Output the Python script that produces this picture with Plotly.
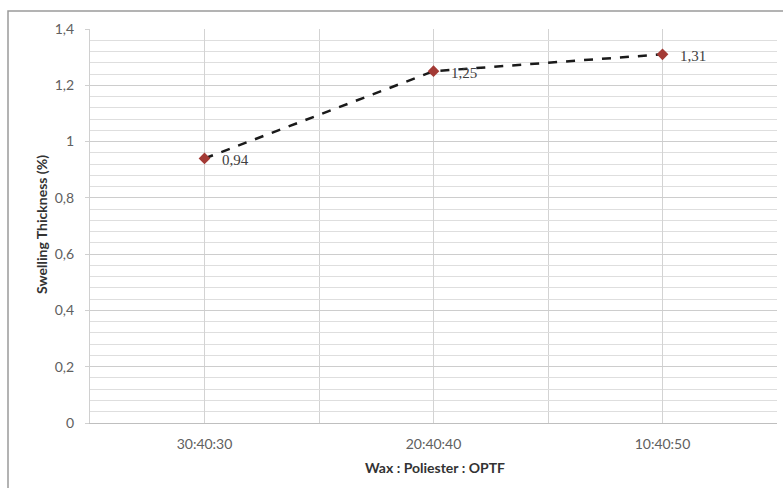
import plotly.graph_objects as go

categories = ["30:40:30", "20:40:40", "10:40:50"]
swelling = [0.94, 1.25, 1.31]
y_ticks = [0, 0.2, 0.4, 0.6, 0.8, 1.0, 1.2, 1.4]

W, H = 783, 488
ML, MR, MT, MB = 90, 6, 29, 65
pw = W - ML - MR
ph = H - MT - MB

def px_x(x):
    return (x - ML) / pw

def px_y(y):
    return (H - MB - y) / ph

xs = list(range(len(categories)))

fig = go.Figure()
fig.add_trace(go.Scatter(
    x=xs, y=swelling,
    mode="lines+markers",
    line=dict(color="#1a1a1a", width=2.5, dash="dash"),
    marker=dict(symbol="diamond", size=9, color="#A33A35"),
    showlegend=False,
))

ann = []
for xi, v in zip(xs, swelling):
    ann.append(dict(x=xi, y=v, xref="x", yref="y", text=f"{v:.2f}".replace(".", ","),
                    showarrow=False, xanchor="left", xshift=15, yshift=-2,
                    font=dict(family="Liberation Serif", size=15, color="#404040")))

ann += [
    dict(text="<b>Wax : Poliester : OPTF</b>", xref="paper", yref="paper",
         x=px_x(435), y=px_y(467), xanchor="center", yanchor="middle", showarrow=False,
         font=dict(family="Lato", size=14, color="#333333")),
    dict(text="<b>Swelling Thickness (%)</b>", xref="paper", yref="paper",
         x=px_x(41), y=px_y(225), xanchor="center", yanchor="middle", showarrow=False, textangle=-90,
         font=dict(family="Lato", size=14, color="#333333")),
]

fig.update_layout(
    width=W, height=H,
    margin=dict(l=ML, r=MR, t=MT, b=MB),
    paper_bgcolor="white", plot_bgcolor="white",
    separators=",.",
    xaxis=dict(
        range=[-0.5, 2.5],
        tickvals=xs, ticktext=categories,
        showgrid=True, gridcolor="#d3d3d3", gridwidth=1.2,
        minor=dict(tickvals=[-0.5, 0.5, 1.5, 2.5], showgrid=True, gridcolor="#d3d3d3", gridwidth=1.2),
        showline=True, linecolor="#bfbfbf", linewidth=1.2,
        ticks="", zeroline=False,
        tickfont=dict(family="Lato", size=14, color="#606060"),
        ticklabelstandoff=8,
    ),
    yaxis=dict(
        range=[0, 1.4],
        tickvals=y_ticks,
        ticktext=[("0" if v == 0 else f"{v:g}".replace(".", ",")) for v in y_ticks],
        showgrid=True, gridcolor="#cdcdcd", gridwidth=1.2,
        minor=dict(dtick=0.04, showgrid=True, gridcolor="#dedede", gridwidth=1.2, ticks=""),
        showline=True, linecolor="#d0d0d0", linewidth=1.2,
        ticks="outside", ticklen=4, tickcolor="#d0d0d0",
        zeroline=False,
        tickfont=dict(family="Lato", size=14, color="#606060"),
        ticklabelstandoff=8,
    ),
    shapes=[dict(
        type="rect", xref="paper", yref="paper",
        x0=px_x(8), x1=px_x(800), y0=px_y(11), y1=px_y(510),
        line=dict(color="#9a9a9a", width=1.5), fillcolor="rgba(0,0,0,0)", layer="below",
    )],
    annotations=ann,
)

fig.write_html("out.html")
